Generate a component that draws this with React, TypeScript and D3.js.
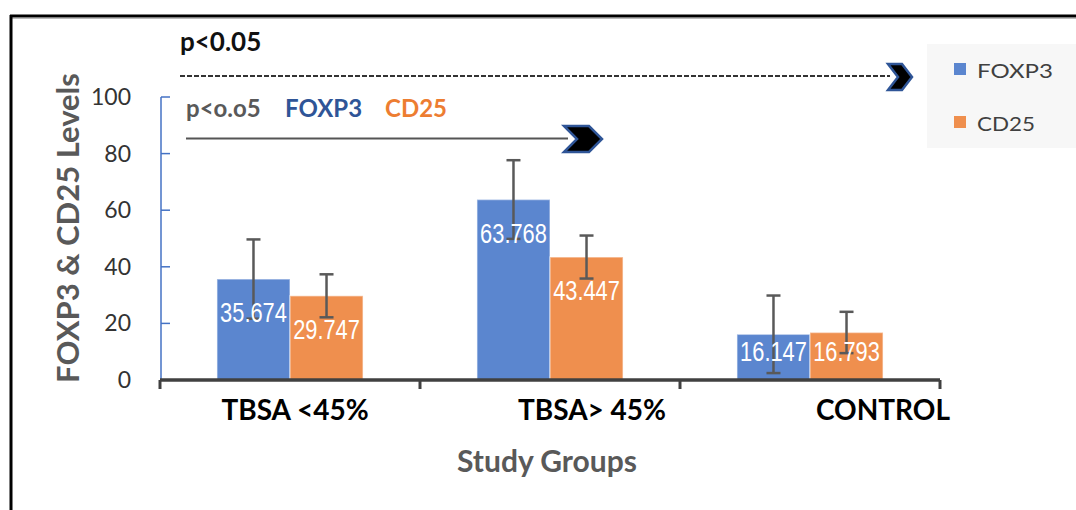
import React from "react";
import * as d3 from "d3";

const categories = ["TBSA <45%", "TBSA> 45%", "CONTROL"];
const seriesNames = ["FOXP3", "CD25"];
const foxp3Values = [35.674, 63.768, 16.147];
const cd25Values = [29.747, 43.447, 16.793];
const foxp3Errors = [14.0, 13.9, 13.7];
const cd25Errors = [7.6, 7.6, 7.3];
const yTicks = [0, 20, 40, 60, 80, 100];
const seriesColors = ["#5b86cf", "#ef8f4e"];

const W = 1076;
const H = 510;
const labelShift = [5, 42, 73];

export default function App() {
  const y = d3.scaleLinear().domain([0, 100]).range([380, 97]);
  const x0 = d3.scaleBand().domain(categories).range([160, 940]).padding(0);
  const x1 = d3
    .scaleBand()
    .domain(seriesNames)
    .range([0, x0.bandwidth()])
    .paddingInner(0)
    .paddingOuter(0.78);
  const values = [foxp3Values, cd25Values];
  const errors = [foxp3Errors, cd25Errors];
  const calibri = "Lato, 'Open Sans', sans-serif";
  const narrow = "'Liberation Sans', Arial, sans-serif";

  const chevron = (xa: number, xb: number, ya: number, yb: number, d: number) => {
    const ym = (ya + yb) / 2;
    return `M${xa},${ya} L${xb - d},${ya} L${xb},${ym} L${xb - d},${yb} L${xa},${yb} L${xa + d},${ym} Z`;
  };

  return (
    <svg
      width={W}
      height={H}
      style={{ position: "absolute", left: 0, top: 0, background: "#fff" }}
    >
      {/* frame */}
      <line x1={10} y1={18.5} x2={W} y2={18.5} stroke="#bbb" strokeWidth={1} />
      <line x1={10} y1={16} x2={W} y2={16} stroke="#000" strokeWidth={3} />
      <line x1={11} y1={15} x2={11} y2={H} stroke="#000" strokeWidth={3} />

      {/* legend box */}
      <rect x={927} y={44} width={W - 927} height={104} fill="#f7f7f7" />
      {seriesNames.map((s, i) => (
        <g key={s}>
          <rect x={954} y={63 + i * 53} width={12} height={12} fill={seriesColors[i]} />
          <text
            x={977}
            y={78 + i * 53}
            fontFamily={calibri}
            fontSize={20}
            fill="#404040"
            textLength={s.length === 5 ? 76 : 58}
            lengthAdjust="spacingAndGlyphs"
          >
            {s}
          </text>
        </g>
      ))}

      {/* y axis */}
      <line x1={161} y1={y(100)} x2={161} y2={y(0)} stroke="#4472c4" strokeWidth={1.5} />
      {yTicks.map((t) => (
        <g key={t}>
          <line x1={161} x2={170} y1={y(t)} y2={y(t)} stroke="#4472c4" strokeWidth={1.5} />
          <text
            x={131}
            y={y(t)}
            dy="0.35em"
            textAnchor="end"
            fontFamily={calibri}
            fontSize={23}
            fill="#333"
          >
            {t}
          </text>
        </g>
      ))}

      {/* bars */}
      {categories.map((c, ci) => (
        <g key={c} transform={`translate(${x0(c)},0)`}>
          {seriesNames.map((s, si) => {
            const v = values[si][ci];
            return (
              <rect
                key={s}
                x={x1(s)}
                y={y(v)}
                width={x1.bandwidth()}
                height={y(0) - y(v)}
                fill={seriesColors[si]}
                stroke="rgba(255,255,255,0.45)"
                strokeWidth={1.5}
              />
            );
          })}
        </g>
      ))}

      {/* error bars */}
      {categories.map((c, ci) => (
        <g key={c} transform={`translate(${x0(c)},0)`}>
          {seriesNames.map((s, si) => {
            const v = values[si][ci];
            const e = errors[si][ci];
            const cx = (x1(s) as number) + x1.bandwidth() / 2;
            return (
              <g key={s} stroke="#595959" strokeWidth={2.5}>
                <line x1={cx} x2={cx} y1={y(v + e)} y2={y(v - e)} />
                <line x1={cx - 7} x2={cx + 7} y1={y(v + e)} y2={y(v + e)} />
                <line x1={cx - 7} x2={cx + 7} y1={y(v - e)} y2={y(v - e)} />
              </g>
            );
          })}
        </g>
      ))}

      {/* data labels */}
      {categories.map((c, ci) => (
        <g key={c} transform={`translate(${x0(c)},0)`}>
          {seriesNames.map((s, si) => {
            const v = values[si][ci];
            const cx = (x1(s) as number) + x1.bandwidth() / 2;
            const ly = Math.min(y(v) + 33, y(0) - 29);
            return (
              <text
                key={s}
                transform={`translate(${cx},${ly}) scale(0.78,1)`}
                dy="0.36em"
                textAnchor="middle"
                fontFamily={narrow}
                fontSize={28}
                fill="#fff"
              >
                {v.toFixed(3)}
              </text>
            );
          })}
        </g>
      ))}

      {/* x axis */}
      <line x1={160} x2={940} y1={y(0)} y2={y(0)} stroke="#404040" strokeWidth={3.5} />
      {[...categories.map((c) => x0(c) as number), 940].map((t, i) => (
        <line key={i} x1={t} x2={t} y1={y(0)} y2={y(0) + 9} stroke="#404040" strokeWidth={3} />
      ))}
      {categories.map((c, i) => (
        <text
          key={c}
          x={(x0(c) as number) + x0.bandwidth() / 2 + labelShift[i]}
          y={420}
          textAnchor="middle"
          fontFamily={calibri}
          fontWeight="bold"
          fontSize={28}
          fill="#000"
        >
          {c}
        </text>
      ))}

      {/* axis titles */}
      <text
        x={547}
        y={472}
        textAnchor="middle"
        fontFamily={calibri}
        fontWeight="bold"
        fontSize={30}
        fill="#595959"
      >
        Study Groups
      </text>
      <text
        transform={`translate(79,${228}) rotate(-90)`}
        textAnchor="middle"
        fontFamily={calibri}
        fontWeight="bold"
        fontSize={31}
        fill="#595959"
      >
        FOXP3 &amp; CD25 Levels
      </text>

      {/* annotations */}
      <text x={180} y={51} fontFamily={calibri} fontWeight="bold" fontSize={26} fill="#111">
        p&lt;0.05
      </text>
      <line x1={180} x2={890} y1={76} y2={76} stroke="#333" strokeWidth={2} strokeDasharray="5,2" />
      <path d={chevron(888, 912, 64, 90, 10)} fill="#000" stroke="#2f5597" strokeWidth={2.5} />

      <text x={186} y={117} fontFamily={calibri} fontWeight="bold" fontSize={24} fill="#595959">
        p&lt;o.o5
      </text>
      <text x={285} y={117} fontFamily={calibri} fontWeight="bold" fontSize={24} fill="#2f5597">
        FOXP3
      </text>
      <text x={385} y={117} fontFamily={calibri} fontWeight="bold" fontSize={24} fill="#ed7d31">
        CD25
      </text>
      <line x1={186} x2={568} y1={138.5} y2={138.5} stroke="#555" strokeWidth={2} />
      <path d={chevron(564, 602, 126, 152, 13)} fill="#000" stroke="#2f5597" strokeWidth={2.5} />
    </svg>
  );
}
